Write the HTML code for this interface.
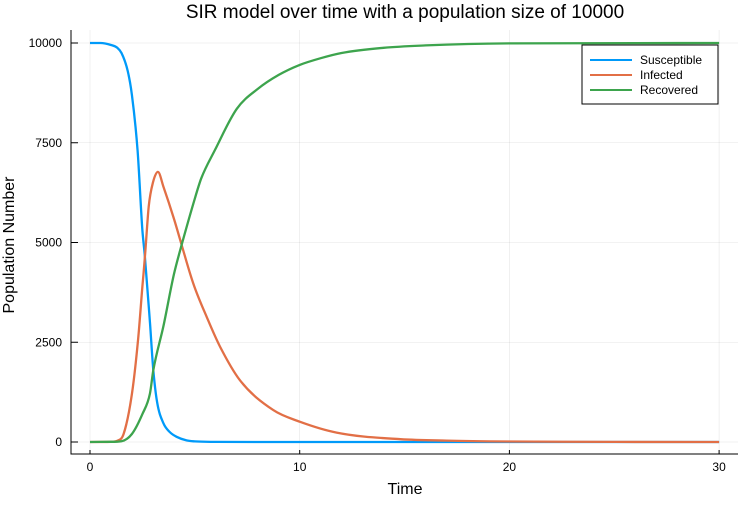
<!DOCTYPE html>
<html><head><meta charset="utf-8"><style>
body{margin:0;background:#fff;}
svg text{font-family:"Liberation Sans",sans-serif;fill:#000;}
</style></head><body>
<svg id="chart" width="750" height="500" viewBox="0 0 750 500" xmlns="http://www.w3.org/2000/svg">
<text x="405" y="18" font-size="19" text-anchor="middle">SIR model over time with a population size of 10000</text>
<g id="grid"></g>
<g id="axes"></g>
<g id="series"></g>
<text x="405" y="494" font-size="16" text-anchor="middle">Time</text>
<text transform="translate(14,245) rotate(-90)" font-size="16" text-anchor="middle">Population Number</text>
<g>
<rect x="582" y="45" width="136" height="59" fill="#fff" stroke="#000" stroke-width="1"/>
<g><line x1="590" y1="60" x2="632" y2="60" stroke="#009af9" stroke-width="2"/><text x="640" y="64" font-size="12">Susceptible</text></g>
<g><line x1="590" y1="75" x2="632" y2="75" stroke="#e26f46" stroke-width="2"/><text x="640" y="79" font-size="12">Infected</text></g>
<g><line x1="590" y1="90" x2="632" y2="90" stroke="#3da44d" stroke-width="2"/><text x="640" y="94" font-size="12">Recovered</text></g>
</g>
</svg>
<script>
const xTicks=[0,10,20,30];
const yTicks=[0,2500,5000,7500,10000];
const susT=[0,0.5,1,1.3,1.5,1.8,2,2.27,2.5,2.62,2.86,3.02,3.2,3.5,3.8,4.13,4.6,5,6,8,30];
const susV=[10000,10000,9950,9880,9750,9300,8700,7300,5300,4640,2980,1800,1000,470,250,130,40,15,3,0,0];
const infT=[0,1,1.3,1.6,2,2.3,2.5,2.62,2.8,3,3.24,3.5,4,4.37,4.92,5.56,6.2,7.15,8.74,10,11.76,14.8,17,20,25,30];
const infV=[0,5,30,200,1200,2600,3900,4640,5900,6500,6770,6400,5600,4940,3980,3140,2390,1550,800,510,235,70,35,12,3,0];
const recT=[0,1,1.5,2,2.5,2.86,3.02,3.5,4,4.37,4.93,5.3,5.96,7,8,9,10,11,12,14,16,20,30];
const recV=[0,5,20,200,700,1220,1800,2900,4200,4940,5980,6600,7320,8350,8850,9200,9450,9620,9750,9880,9940,9990,10000];
const NS='http://www.w3.org/2000/svg';
const X=t=>90+t*20.97, Y=v=>442-v*0.0399;
function mk(tag,attrs,parent){const e=document.createElementNS(NS,tag);for(const k in attrs)e.setAttribute(k,attrs[k]);parent.appendChild(e);return e;}
const grid=document.getElementById('grid'),axes=document.getElementById('axes'),ser=document.getElementById('series');
xTicks.forEach(t=>{
 const l=mk('line',{x1:X(t),x2:X(t),y1:30,y2:454,stroke:'#000','stroke-opacity':0.1,'stroke-width':0.6},grid);
 
 
 const tk=mk('line',{x1:X(t),x2:X(t),y1:454,y2:450,stroke:'#000'},axes);
 
 
 const tx=mk('text',{x:X(t),y:471,'font-size':12,'text-anchor':'middle'},axes);tx.textContent=t;
 
 
});
yTicks.forEach(v=>{
 const l=mk('line',{x1:71,x2:738,y1:Y(v),y2:Y(v),stroke:'#000','stroke-opacity':0.1,'stroke-width':0.6},grid);
 
 
 const tk=mk('line',{x1:71,x2:78,y1:Y(v),y2:Y(v),stroke:'#000'},axes);
 
 
 const tx=mk('text',{x:62,y:Y(v)+4,'font-size':12,'text-anchor':'end'},axes);tx.textContent=v;
 
 
});
const ax=mk('path',{d:'M71 30 V454 H738',fill:'none',stroke:'#000','stroke-width':1},axes);


// monotone cubic path (Fritsch-Carlson)
function monotonePath(px,py){
 const n=px.length,d=[],m=new Array(n);
 for(let i=0;i<n-1;i++)d.push((py[i+1]-py[i])/(px[i+1]-px[i]));
 m[0]=d[0];m[n-1]=d[n-2];
 for(let i=1;i<n-1;i++)m[i]=(d[i-1]*d[i]<=0)?0:(d[i-1]+d[i])/2;
 for(let i=0;i<n-1;i++){
  if(d[i]===0){m[i]=0;m[i+1]=0;continue;}
  const a=m[i]/d[i],b=m[i+1]/d[i],s=a*a+b*b;
  if(s>9){const t=3/Math.sqrt(s);m[i]=t*a*d[i];m[i+1]=t*b*d[i];}
 }
 let p='M'+px[0].toFixed(1)+' '+py[0].toFixed(1);
 for(let i=0;i<n-1;i++){
  const h=(px[i+1]-px[i])/3;
  p+='C'+(px[i]+h).toFixed(1)+' '+(py[i]+m[i]*h).toFixed(1)+' '+(px[i+1]-h).toFixed(1)+' '+(py[i+1]-m[i+1]*h).toFixed(1)+' '+px[i+1].toFixed(1)+' '+py[i+1].toFixed(1);
 }
 return p;
}
function line(ts,vs,c,name){
 const d=monotonePath(ts.map(X),vs.map(Y));
 const p=mk('path',{d:d,fill:'none',stroke:c,'stroke-width':2.3,'stroke-linejoin':'round'},ser);
 
 
}
line(susT,susV,'#009af9','susceptible-line');
line(infT,infV,'#e26f46','infected-line');
line(recT,recV,'#3da44d','recovered-line');
</script>
</body></html>
